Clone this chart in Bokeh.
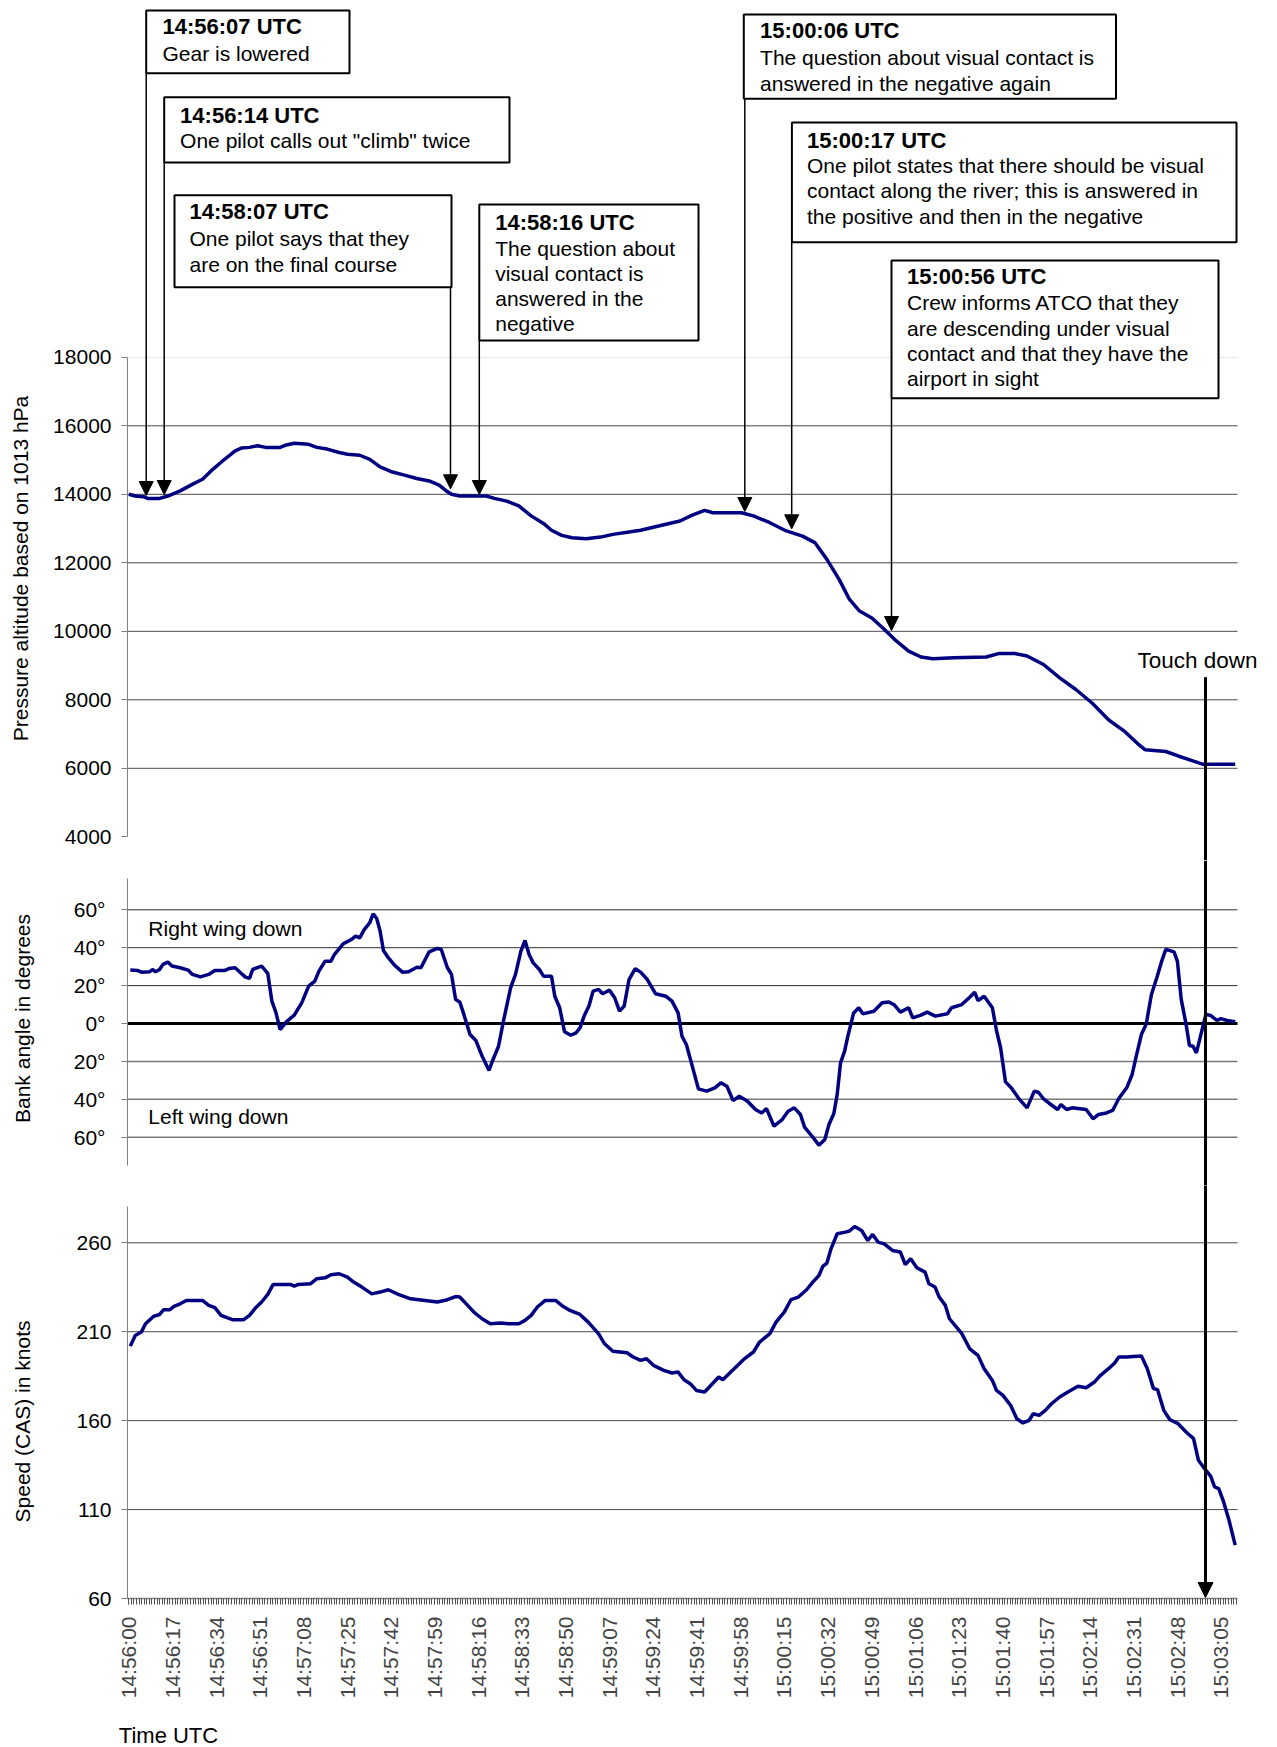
import math
from bokeh.plotting import figure
from bokeh.layouts import column, row
from bokeh.models import Range1d, FixedTicker, Label, Span, Arrow, NormalHead
from bokeh.embed import file_html
from bokeh.resources import INLINE

# ---------------------------------------------------------------- data
x_tick_labels = ["14:56:00", "14:56:17", "14:56:34", "14:56:51", "14:57:08", "14:57:25",
                 "14:57:42", "14:57:59", "14:58:16", "14:58:33", "14:58:50", "14:59:07",
                 "14:59:24", "14:59:41", "14:59:58", "15:00:15", "15:00:32", "15:00:49",
                 "15:01:06", "15:01:23", "15:01:40", "15:01:57", "15:02:14", "15:02:31",
                 "15:02:48", "15:03:05"]

alt_ticks = [4000, 6000, 8000, 10000, 12000, 14000, 16000, 18000]
bank_ticks = [-60, -40, -20, 0, 20, 40, 60]
bank_tick_labels = ["60°", "40°", "20°", "0°", "20°", "40°", "60°"]
speed_ticks = [60, 110, 160, 210, 260]

# seconds after 14:56:00
t_alt = [0, 2.5, 5.7, 7.3, 12, 15.2, 20, 24.7, 28.7, 32.7,
         37.4, 41.4, 43.8, 47, 50.1, 53.3, 58.9, 61.3, 64.4, 70,
         73.2, 77.2, 81.9, 85.1, 89.9, 93.8, 97.8, 102.6, 107.3, 112.1,
         116.9, 120.8, 123.2, 125.6, 128.8, 139.1, 142.3, 147.1, 151.8, 156.6,
         161.4, 164.5, 168.5, 172.5, 178, 183.6, 188.4, 194.7, 199.2, 206.6,
         214.5, 219.3, 224.1, 227.3, 238.4, 243.1, 249.5, 255.9, 262.2, 267,
         271.7, 276.5, 280.5, 284.4, 289.2, 294, 298.7, 303.5, 308.3, 313,
         321, 333.7, 338.5, 344.8, 349.6, 356, 362.3, 368.6, 375, 381.4,
         387.7, 392.5, 395.6, 403.6, 408.4, 414.7, 417.9, 430.6]
alt_ft = [14000, 13950, 13930, 13880, 13880, 13950, 14100, 14290, 14440, 14730,
          15030, 15270, 15350, 15370, 15420, 15370, 15370, 15440, 15490, 15460,
          15370, 15320, 15220, 15170, 15140, 15020, 14800, 14650, 14560, 14460,
          14390, 14270, 14120, 14000, 13950, 13950, 13880, 13800, 13660, 13370,
          13150, 12950, 12800, 12730, 12700, 12750, 12830, 12900, 12950, 13080,
          13220, 13390, 13530, 13460, 13460, 13370, 13170, 12930, 12780, 12590,
          12100, 11510, 10930, 10590, 10390, 10060, 9720, 9420, 9250, 9200,
          9230, 9250, 9350, 9350, 9280, 9030, 8640, 8300, 7900, 7410,
          7070, 6730, 6540, 6490, 6360, 6200, 6120, 6120]

t_bank = [0.6, 3.3, 4.9, 8.1, 9.2, 10.4, 12, 13.3, 15.2, 16.8,
          20, 23.1, 24.7, 27.9, 31.1, 33.5, 37.4, 39, 41.4, 43.8,
          45.4, 47, 48.2, 51.7, 54.1, 55.7, 57.3, 58.9, 61.3, 64.4,
          67.3, 70, 72.4, 74, 76.4, 78.7, 80, 83.5, 86.7, 88.3,
          89.9, 91.5, 93.8, 95.1, 96.5, 97.8, 99.1, 101, 103.4, 106.5,
          108.9, 112.1, 113.7, 116.9, 120.1, 121.6, 124, 125.6, 127.2, 128.8,
          130.4, 132.8, 135.1, 137.5, 140.2, 141.5, 143.9, 145.8, 148.6, 150.5,
          152.6, 154.2, 155.8, 157.4, 159.8, 161.4, 164.5, 165.8, 167.7, 169.6,
          172, 174.1, 175.6, 177.2, 179.1, 180.7, 182.8, 184.4, 187.1, 189.1,
          191, 192.8, 194.7, 197.1, 199.2,
          201.8, 205, 209, 211.4, 213.8, 215.3, 217, 219.3, 221.7, 224.9,
          228.1, 230.4, 232.8, 235.2, 237.6, 240.8, 243.9, 246.3, 248.2, 251.1,
          254.3, 256.6, 259, 261.4, 263, 265.4, 268.6, 270.9, 272.5, 274.4,
          275.7, 277, 278.6, 279.7, 282.1, 284.1, 285.7, 290, 293.2, 295.9,
          298, 300.3, 303.5, 305.1, 308.3, 310.7, 313.9, 318.6, 320.2, 324.2,
          327.3, 329.2, 330.5, 332.9, 336.1, 337.7, 339.3, 341.2, 343.5, 346.4,
          349.6, 352.4, 354, 355.9, 358.3, 361.5, 362.8, 365, 367.1, 372.6,
          375.3, 377.4, 380.5, 382.9, 385.3, 388.5, 390.5, 392.1, 394.1, 396,
          398, 400.1, 402, 403.6, 406.8, 408.1, 409.6, 411.5, 412.8, 414.2,
          415.5, 417.1, 419.2, 421.1, 423.5, 425, 427.4, 430.6]
bank_deg = [28.2, 28, 27.1, 27.3, 28.5, 27.3, 28.5, 31.2, 32.4, 30.3,
            29.4, 28.2, 25.9, 24.6, 25.9, 28, 28, 29, 29.4, 26.4,
            24.5, 23.8, 28.5, 30.3, 26.4, 11.8, 5.6, -3.2, 0.9, 4.4,
            10.9, 19.7, 22.4, 27.6, 32.9, 32.9, 36.4, 42.1, 44.4, 46.1,
            45.2, 49.3, 53.2, 57.9, 55.4, 48.8, 38.5, 34.7, 30.8, 27.1,
            27.3, 29.7, 29.4, 37.8, 39.6, 39.1, 29.4, 25.9, 12.7, 11.4,
            4.8, -5.8, -9, -17.2, -24.8, -19.9, -12, 1.2, 18.8, 25.9,
            38.2, 43.8, 36.4, 32, 28.5, 25, 25, 14.4, 8.3, -4.4,
            -6.2, -4.9, -2.3, 3.9, 9.2, 17.1, 18, 15.7, 17.6, 13.6,
            6.5, 9.2, 23.2, 28.9, 27.1,
            23.2, 15.7, 14.4, 11.8, 5.6, -6.7, -11.1, -22.5, -34.5, -35.7,
            -34, -31.3, -33.1, -40.7, -38.4, -41, -45.4, -47.2, -44.9, -54.2,
            -50.7, -46.3, -44.5, -48, -54.7, -58.6, -64.2, -61.2, -53.3, -47.5,
            -37.5, -20.8, -14.6, -7.6, 5.6, 8.3, 5.1, 6.5, 10.9, 11.4,
            9.7, 6, 8.3, 3, 4.4, 6, 3.9, 5.1, 8.3, 10,
            13.9, 16.5, 12.1, 14.4, 8.3, -3.7, -12.8, -30.8, -34, -39.6,
            -44.5, -35.7, -36.3, -39.6, -42.2, -45.4, -42.8, -45.4, -44.5, -45.4,
            -50.3, -48, -47.2, -45.9, -39.6, -33.6, -26.9, -17.2, -5.8, -0.2,
            15.3, 24.1, 32.9, 39.1, 37.8, 32.9, 12.7, -0.5, -11.6, -12,
            -15.5, -6.7, 4.8, 4.2, 1.6, 2.6, 1.6, 0.9]

t_speed = [0.6, 2.5, 4.9, 6.5, 9.6, 12, 13.6, 16, 17.6, 20,
           22.4, 28.7, 31.1, 33.5, 35.9, 38.2, 40.6, 44.6, 47, 49.4,
           51.7, 54.1, 56.2, 62.9, 64.4, 66, 70.8, 73.2, 76.4, 78.7,
           81.9, 85.1, 87.5, 90.7, 94.6, 97.8, 101, 104.9, 109.7, 115.3,
           120.1, 124, 127.2, 128.8, 131.9, 134.3, 137.5, 140.7, 144.7, 147.8,
           151.8, 154.2, 156.6, 159, 162.1, 166.1, 168.5, 171.7, 175.6, 178.8,
           182.8, 185.2, 188.4, 193.9, 196.3, 199.2,
           201.5, 204.2, 208.2, 211.4, 213.8, 216.1, 218.5, 220.9, 224.1, 226.5,
           229.6, 231.2, 235.2, 239.2, 243.1, 245.5, 249.5, 251.9, 255.1, 257.7,
           260.6, 263.8, 266.2, 268.6, 270.1, 271.7, 273.3, 275.7, 278.9, 280.5,
           282.5, 285.2, 287.6, 289.5, 291.6, 294, 297.2, 300.3, 302.2, 304.3,
           306.7, 309.9, 311.4, 313.8, 315.4, 317.8, 319.4, 322.6, 324.2, 327.3,
           330.5, 332.9, 336.1, 337.7, 340.2, 343.2, 345.6, 348, 350.4, 352,
           354.3, 356.7, 359.1, 362.3, 365.5, 369.4, 372.6, 375.8, 378.2, 381.3,
           383.7, 385.3, 388.5, 390.9, 394.1, 396.4, 398.8, 400.4, 402.8, 405.2,
           408.4, 411.5, 414.4, 416.3, 418.7, 421.1, 422.6, 424.2, 426.1, 428.2,
           430.6]
speed_kt = [201.9, 207.9, 209.8, 214.5, 218.6, 219.7, 222.4, 222.4, 224.2, 225.7,
            227.6, 227.6, 224.8, 223.5, 219.2, 217.9, 216.7, 216.7, 219.2, 223.5,
            226.7, 231, 236.6, 236.6, 235.7, 236.6, 237, 239.8, 240.3, 242,
            242.6, 240.7, 237.9, 235.1, 231.3, 232.3, 233.6, 231, 228.5, 227.6,
            226.7, 228, 229.8, 229.5, 224.8, 221, 217.3, 214.5, 214.9, 214.5,
            214.5, 216.4, 219.2, 223.9, 227.6, 227.6, 224.8, 222, 219.7, 215.4,
            208.9, 203.2, 199, 198.2, 195.8, 193.9,
            194.8, 191.1, 188.3, 186.8, 187.3, 183, 180.8, 177, 176.1, 179.8,
            184.5, 183, 188.6, 194.3, 198.6, 204.2, 208.9, 215.4, 221, 228,
            229.5, 233.6, 237.9, 241.6, 246.7, 248.6, 256.6, 265.1, 266, 266.6,
            269.2, 266.9, 261.3, 264.7, 260.4, 259.4, 255.7, 254.8, 247.8, 251,
            246, 243.5, 237, 235.1, 229.5, 224.8, 217.3, 211.7, 208.9, 200.4,
            196.7, 189.2, 182.6, 177, 174.2, 168.6, 161.1, 158.7, 160.2, 163.9,
            163, 165.8, 169.5, 173.3, 176.1, 179.3, 178.5, 181.7, 185.5, 189.2,
            192.4, 195.8, 195.8, 196.1, 196.3, 189.2, 178, 177.4, 165.8, 160.5,
            158.3, 153.6, 149.9, 137.7, 133, 128.7, 122.7, 121.8, 114.3, 104,
            90]

event_titles = ["14:56:07 UTC", "14:56:14 UTC", "14:58:07 UTC", "14:58:16 UTC",
                "15:00:06 UTC", "15:00:17 UTC", "15:00:56 UTC"]
event_texts = [
    ["Gear is lowered"],
    ['One pilot calls out "climb" twice'],
    ["One pilot says that they", "are on the final course"],
    ["The question about", "visual contact is", "answered in the", "negative"],
    ["The question about visual contact is", "answered in the negative again"],
    ["One pilot states that there should be visual",
     "contact along the river; this is answered in",
     "the positive and then in the negative"],
    ["Crew informs ATCO that they", "are descending under visual",
     "contact and that they have the", "airport in sight"],
]

# ---------------------------------------------------------------- layout (page pixels)
PW, PH = 1277, 1747
SW = 44                          # left strip holding the axis titles
MW = PW - SW                     # width of the main column
FL, FR = 127.0, 1237.0           # page x of the data area (axis .. last sample)
XS, XE = -0.5, 431.5             # seconds shown between FL and FR
BL = 7.0                         # baseline correction for labels


def tx(px):
    return XS + (px - FL) * (XE - XS) / (FR - FL)


XR_END = tx(PW)                  # frames run to the right page edge


def lin(v1, p1, v2, p2):
    k = (v2 - v1) / (p2 - p1)
    return lambda p: v1 + (p - p1) * k


A_TOP, A_BOT = 0, 860
B_TOP, B_BOT = 860, 1185
C_TOP, C_FRAME_BOT, C_BOT = 1185, 1598, 1710

ya = lin(18000, 356.8, 4000, 836.3)
yb = lin(60, 909.3, -60, 1136.7)
yc = lin(260, 1242.3, 60, C_FRAME_BOT)

FONT = "Liberation Sans"
NAVY = "#000080"
GRID = "#4a4a4a"
AXIS = "#808080"

x_range = Range1d(XS, XR_END)


def make_fig(top, frame_bot, bot, y_range, with_x):
    p = figure(width=MW, height=int(bot - top), x_range=x_range, y_range=y_range,
               output_backend="svg", toolbar_location=None, tools="",
               x_axis_location="below" if with_x else None,
               min_border_left=int(FL - SW), min_border_right=0,
               min_border_top=0, min_border_bottom=int(bot - frame_bot))
    p.outline_line_color = None
    p.background_fill_color = "white"
    p.border_fill_color = "white"
    p.xgrid.visible = False
    p.ygrid.visible = False
    ax = p.yaxis[0]
    ax.axis_line_color = AXIS
    ax.axis_line_width = 1
    ax.major_tick_line_color = AXIS
    ax.major_tick_out = 6
    ax.major_tick_in = 0
    ax.minor_tick_out = 0
    ax.minor_tick_in = 0
    ax.major_label_text_font = FONT
    ax.major_label_text_font_size = "21px"
    ax.major_label_text_color = "black"
    ax.major_label_standoff = 10
    return p


def hgrid(fig, values, color=GRID, width=1):
    n = len(values)
    fig.segment(x0=[XS] * n, x1=[XE] * n, y0=values, y1=values,
                line_color=color, line_width=width)


def text_label(fig, x, y, text, size="21px", style="normal", **kw):
    fig.add_layout(Label(x=x, y=y, text=text, text_font=FONT, text_font_size=size,
                         text_font_style=style, text_color="black", **kw))


# ---------------- altitude panel (with call-outs)
pA = make_fig(A_TOP, A_BOT, A_BOT, Range1d(ya(A_BOT), ya(A_TOP)), False)
pA.yaxis[0].ticker = FixedTicker(ticks=alt_ticks)
pA.yaxis[0].bounds = (alt_ticks[0], alt_ticks[-1])
hgrid(pA, alt_ticks[1:-1])
hgrid(pA, alt_ticks[-1:], color="#e4e4e4")
pA.line(t_alt, alt_ft, line_color=NAVY, line_width=3.5)

# call-out boxes: left, right, top, bottom, text x, baselines (page px)
boxes_px = [
    (145.7, 349.0, 10.0, 72.7, 162.0, [33.3, 60.0]),
    (163.7, 509.0, 96.7, 162.0, 179.6, [121.7, 146.7]),
    (174.0, 451.0, 194.7, 286.7, 189.0, [218.3, 245.0, 270.7]),
    (478.8, 698.0, 204.0, 340.0, 494.7, [229.3, 255.0, 280.0, 305.0, 330.0]),
    (743.3, 1115.5, 14.0, 98.3, 759.6, [37.3, 64.0, 90.0]),
    (791.4, 1236.0, 122.0, 241.7, 806.5, [146.7, 171.7, 197.3, 222.7]),
    (891.0, 1218.0, 260.0, 397.7, 906.5, [283.3, 309.3, 335.0, 360.0, 385.0]),
]
arrow_px = [145.7, 163.7, 450.0, 478.8, 744.3, 791.2, 891.0]
arrow_tip_py = [495.0, 494.0, 488.3, 494.0, 511.0, 528.3, 630.0]

for (l, r, t, b, txp, bls), ax_px, tip in zip(boxes_px, arrow_px, arrow_tip_py):
    pA.add_layout(Arrow(end=NormalHead(size=14, fill_color="black", line_color="black", line_width=1),
                        x_start=tx(ax_px), y_start=ya(b), x_end=tx(ax_px), y_end=ya(tip),
                        line_color="black", line_width=1.5))

pA.quad(left=[tx(b[0]) for b in boxes_px], right=[tx(b[1]) for b in boxes_px],
        top=[ya(b[2]) for b in boxes_px], bottom=[ya(b[3]) for b in boxes_px],
        fill_color="white", line_color="black", line_width=2)

for (l, r, t, b, txp, bls), title, lines in zip(boxes_px, event_titles, event_texts):
    text_label(pA, tx(txp), ya(bls[0] - BL), title, size="22px", style="bold",
               text_baseline="alphabetic", text_align="left")
    for line, bl in zip(lines, bls[1:]):
        text_label(pA, tx(txp), ya(bl - BL), line, text_baseline="alphabetic", text_align="left")

touchdown_s = tx(1205.0)
pA.segment(x0=[touchdown_s], y0=[ya(676.7)], x1=[touchdown_s], y1=[ya(A_BOT + 5)],
           line_color="black", line_width=3)
text_label(pA, tx(1137.0), ya(666.7 - BL), "Touch down", size="22.5px",
           text_baseline="alphabetic", text_align="left")

# ---------------- bank panel
pB = make_fig(B_TOP, B_BOT, B_BOT, Range1d(yb(B_BOT), yb(B_TOP)), False)
pB.yaxis[0].ticker = FixedTicker(ticks=bank_ticks)
pB.yaxis[0].bounds = (yb(1165.0), yb(878.0))
pB.yaxis[0].major_label_overrides = {v: s for v, s in zip(bank_ticks, bank_tick_labels)}
pB.yaxis[0].major_label_standoff = 16
hgrid(pB, [v for v in bank_ticks if v > 0], color="#303030")
hgrid(pB, [v for v in bank_ticks if v < 0], color="#7a7a7a", width=1.5)
hgrid(pB, [0], color="black", width=3)
pB.add_layout(Span(location=touchdown_s, dimension="height", line_color="black", line_width=3))
pB.line(t_bank, bank_deg, line_color=NAVY, line_width=3.5)
text_label(pB, tx(147.8), yb(935.0 - BL), "Right wing down", text_baseline="alphabetic")
text_label(pB, tx(147.8), yb(1123.3 - BL), "Left wing down", text_baseline="alphabetic")

# ---------------- speed panel
pC = make_fig(C_TOP, C_FRAME_BOT, C_BOT, Range1d(speed_ticks[0], yc(C_TOP)), True)
pC.yaxis[0].ticker = FixedTicker(ticks=speed_ticks)
pC.yaxis[0].bounds = (speed_ticks[0], yc(1206.0))
hgrid(pC, speed_ticks[1:])
pC.line(t_speed, speed_kt, line_color=NAVY, line_width=3.5)
pC.add_layout(Arrow(end=NormalHead(size=15, fill_color="black", line_color="black", line_width=1),
                    x_start=touchdown_s, y_start=yc(C_TOP - 5), x_end=touchdown_s,
                    y_end=yc(1597.0), line_color="black", line_width=3))

x_tick_pos = []
for lab in x_tick_labels:
    h, m, s = (int(v) for v in lab.split(":"))
    x_tick_pos.append((h * 3600 + m * 60 + s) - (14 * 3600 + 56 * 60))

xa = pC.xaxis[0]
xa.ticker = FixedTicker(ticks=x_tick_pos, minor_ticks=list(range(0, 432)))
xa.major_label_overrides = {v: s for v, s in zip(x_tick_pos, x_tick_labels)}
xa.bounds = (XS, XE)
xa.major_label_orientation = math.pi / 2
xa.major_label_text_font = FONT
xa.major_label_text_font_size = "21px"
xa.major_label_standoff = 12
xa.axis_line_color = AXIS
xa.axis_line_width = 1.5
xa.major_tick_out = 6
xa.major_tick_in = 0
xa.minor_tick_out = 6
xa.minor_tick_in = 0
xa.major_tick_line_color = "#505050"
xa.minor_tick_line_color = "#505050"


# ---------------- strips for texts outside the plot frames
def strip(width, height, xr, yr):
    s = figure(width=width, height=height, x_range=xr, y_range=yr,
               output_backend="svg", toolbar_location=None, tools="",
               x_axis_location=None, y_axis_location=None, min_border=0,
               min_border_left=0, min_border_right=0, min_border_top=0, min_border_bottom=0)
    s.outline_line_color = None
    s.xgrid.visible = False
    s.ygrid.visible = False
    s.background_fill_color = "white"
    s.border_fill_color = "white"
    return s


pS = strip(SW, C_BOT, Range1d(0, SW), Range1d(C_BOT, 0))      # page coordinates
text_label(pS, 20.0, 568.0, "Pressure altitude based on 1013 hPa", angle=math.pi / 2,
           text_align="center", text_baseline="middle")
text_label(pS, 22.4, 1018.0, "Bank angle in degrees", angle=math.pi / 2,
           text_align="center", text_baseline="middle")
text_label(pS, 22.4, 1421.0, "Speed (CAS) in knots", angle=math.pi / 2,
           text_align="center", text_baseline="middle")

# bottom strip across the full page width (page coordinates)
pT = strip(PW, PH - C_BOT, Range1d(0, PW), Range1d(PH, C_BOT))
text_label(pT, 118.3, 1741.7 - BL, "Time UTC", size="22px",
           text_baseline="alphabetic", text_align="left")

layout = column(row(pS, column(pA, pB, pC, spacing=0), spacing=0), pT, spacing=0)
open("out.html", "w").write(file_html(layout, INLINE, title="Flight data"))
